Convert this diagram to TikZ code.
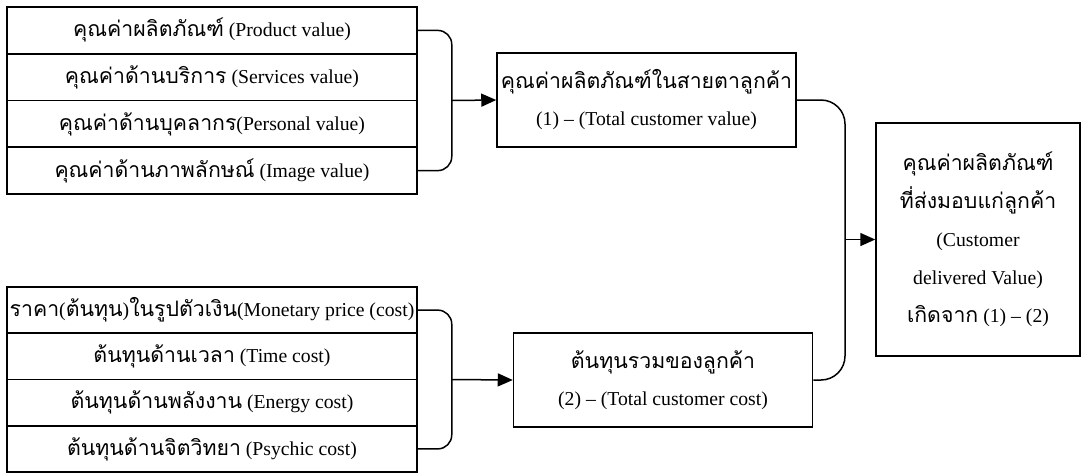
\documentclass[tikz,border=0pt]{standalone}
\usepackage{fontspec}
\setmainfont{Liberation Serif}
\newfontfamily\thaifont[Script=Thai,Scale=1.08]{Loma}
\newcommand{\thai}[1]{{\thaifont #1}}
\usetikzlibrary{arrows.meta,calc,positioning}

\begin{document}
\begin{tikzpicture}[x=0.5pt, y=-0.5pt, line width=0.75pt,
  >={Triangle[length=7.5pt,width=6.5pt]},
  font=\fontsize{9.85}{12}\selectfont,
  rowbox/.style={draw, minimum width=205pt, minimum height=23.3pt, inner sep=0pt},
  sumbox/.style={draw, minimum width=149.5pt, minimum height=47pt, inner sep=0pt,
    align=center, font=\fontsize{9.85}{18.5}\selectfont}]

% =====================================================================
% Canvas in pixel units of the source figure (1082 x 473), y downwards
% =====================================================================
\useasboundingbox (0,0) rectangle (1082,473);

% ===== Value side (top left), four stacked rows =====
\node[rowbox] (val1) at (212, 30.4)  {\thai{คุณค่าผลิตภัณฑ์} (Product value)};
\node[rowbox] (val2) at (212, 77.1)  {\thai{คุณค่าด้านบริการ} (Services value)};
\node[rowbox] (val3) at (212, 123.9) {\thai{คุณค่าด้านบุคลากร}(Personal value)};
\node[rowbox] (val4) at (212, 170.6) {\thai{คุณค่าด้านภาพลักษณ์} (Image value)};

% ===== Cost side (bottom left), four stacked rows =====
\node[rowbox] (cost1) at (212, 310.1) {\thai{ราคา}(\thai{ต้นทุน})\thai{ในรูปตัวเงิน}(Monetary price (cost)};
\node[rowbox] (cost2) at (212, 356.4) {\thai{ต้นทุนด้านเวลา} (Time cost)};
\node[rowbox] (cost3) at (212, 402.6) {\thai{ต้นทุนด้านพลังงาน} (Energy cost)};
\node[rowbox] (cost4) at (212, 448.9) {\thai{ต้นทุนด้านจิตวิทยา} (Psychic cost)};

% ===== Totals and result =====
\node[sumbox] (totval) at (646.5, 100)
  {\thai{คุณค่าผลิตภัณฑ์ในสายตาลูกค้า}\\(1) -- (Total customer value)};
\node[sumbox] (totcost) at (663, 380)
  {\thai{ต้นทุนรวมของลูกค้า}\\(2) -- (Total customer cost)};
\node[draw, minimum width=102pt, minimum height=116.5pt, inner sep=0pt,
      align=center, font=\fontsize{9.85}{19}\selectfont]
  (delivered) at (978, 239.5)
  {\thai{คุณค่าผลิตภัณฑ์}\\\thai{ที่ส่งมอบแก่ลูกค้า}\\(Customer\\delivered Value)\\\thai{เกิดจาก} (1) -- (2)};

% ===== Brackets and arrows =====
\draw[rounded corners=7pt] (val1.east) -- ++(34,0) |- (val4.east);
\coordinate (valjoin) at ($(val1.east)!0.5!(val4.east)+(34,0)$);
\draw[->] (valjoin) -- (totval.west);

\draw[rounded corners=7pt] (cost1.east) -- ++(34,0) |- (cost4.east);
\coordinate (costjoin) at ($(cost1.east)!0.5!(cost4.east)+(34,0)$);
\draw[->] (costjoin) -- (totcost.west);

\coordinate (sumjoin) at (845, 239.5);
\draw[rounded corners=12pt] (totval.east) -| (sumjoin) |- (totcost.east);
\draw[->] (sumjoin) -- (delivered.west);

\end{tikzpicture}
\end{document}
